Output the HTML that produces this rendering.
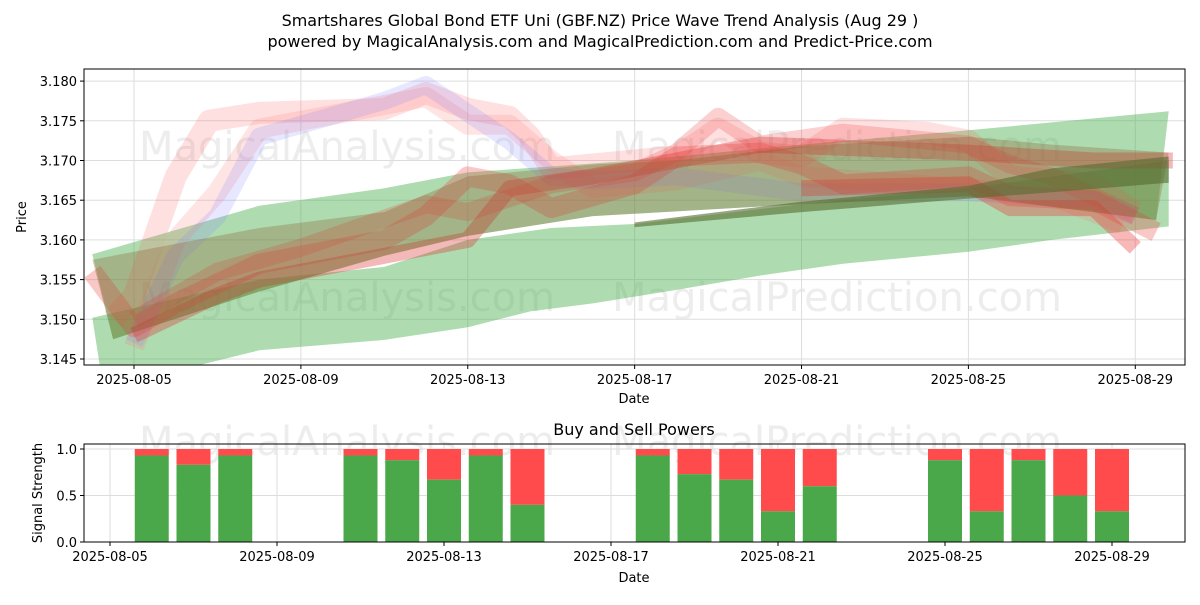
<!DOCTYPE html>
<html><head><meta charset="utf-8"><style>
body{margin:0;background:#fff;font-family:"Liberation Sans","DejaVu Sans",sans-serif}
svg text{font-family:"DejaVu Sans","Liberation Sans",sans-serif;fill:#000}
</style></head><body>
<svg id="c" width="1200" height="600" xmlns="http://www.w3.org/2000/svg">
<text x="600" y="26" text-anchor="middle" font-size="16">Smartshares Global Bond ETF Uni (GBF.NZ) Price Wave Trend Analysis (Aug 29 )</text>
<text x="600" y="47" text-anchor="middle" font-size="16">powered by MagicalAnalysis.com and MagicalPrediction.com and Predict-Price.com</text>
<g id="topg"></g><g id="botg"></g>
</svg>
<script>
// ---- data (x = day of August 2025) ----
const xTickLabels=["2025-08-05","2025-08-09","2025-08-13","2025-08-17","2025-08-21","2025-08-25","2025-08-29"];
const xTickDays=[5,9,13,17,21,25,29];
const yTicks=[3.145,3.150,3.155,3.160,3.165,3.170,3.175,3.180];
const greenAUpper=[[4,3.1582],[8,3.1643],[11,3.1665],[13,3.1685],[17,3.170],[21,3.172],[25,3.1738],[29.8,3.1762]];
const greenBUpper=[[4,3.1502],[8,3.155],[11,3.1566],[13,3.160],[15,3.1615],[17,3.162],[21,3.1645],[25,3.1665],[29.8,3.170]];
const greenBLower=[[4.2,3.1435],[6,3.1435],[8,3.1461],[11,3.1474],[13,3.149],[14.5,3.151],[16,3.152],[18,3.1537],[20,3.1555],[22,3.157],[25,3.1585],[27,3.160],[29.8,3.1617]];
const brownUpper=[[4,3.1575],[8,3.1615],[11,3.1635],[13,3.168],[16,3.1695],[18,3.170],[21,3.1718],[25,3.173],[27,3.172],[29.8,3.171]];
const brownLower=[[4.5,3.1475],[8,3.1535],[11,3.158],[13,3.1605],[16,3.163],[21,3.1645],[25,3.1655],[29.5,3.1625]];
const oliveUpper=[[17,3.1622],[21,3.1648],[25,3.1668],[27,3.169],[29.8,3.1705]];
const oliveLower=[[17,3.1616],[21,3.1635],[25,3.1652],[27,3.166],[29.8,3.1672]];
const lineBlue=[[5,3.147],[6,3.158],[7,3.163],[8,3.173],[11,3.1775],[12,3.1795],[13,3.176],[14,3.1725],[15,3.168],[16,3.1675],[18,3.168],[21,3.166],[25,3.166],[28,3.165],[29,3.163]];
const lineP1=[[4.5,3.150],[5,3.153],[6,3.168],[6.8,3.175],[8,3.176],[11,3.1765],[12,3.1785],[13,3.1765],[14,3.1755],[14.5,3.173],[15,3.169],[16,3.1695],[18,3.1705],[19,3.174],[20,3.171],[21,3.1705],[22,3.174],[24,3.1735],[25,3.1725],[26,3.168],[28,3.167],[29,3.1635]];
const lineP2=[[4,3.156],[5,3.149],[6,3.152],[8,3.157],[11,3.160],[12,3.163],[13,3.168],[14,3.167],[15,3.164],[17,3.167],[18,3.1705],[20,3.171],[21,3.1695],[22,3.167],[25,3.168],[26,3.1655],[28,3.165],[29.5,3.161]];
const lineP3=[[5,3.148],[7,3.153],[8,3.155],[11,3.158],[13,3.160],[14,3.1665],[16,3.168],[18,3.170],[20,3.172],[25,3.171],[28,3.170],[29.9,3.170]];
const lineP4=[[5,3.150],[7,3.156],[9,3.159],[12,3.1645],[13,3.1635],[15,3.167],[17,3.1685],[18,3.171],[19,3.1755],[20,3.172],[22,3.1735],[25,3.172],[26,3.1695],[27,3.168],[29,3.163]];
const lineP5=[[5,3.1465],[6,3.160],[7,3.166],[8,3.174],[10,3.176],[12,3.178],[13,3.1745],[14,3.1745],[15,3.170],[16,3.1665],[18,3.1675],[20,3.170],[21,3.168],[25,3.1665],[27,3.1655],[28.7,3.162]];
const lineP6=[[21,3.1665],[25,3.167],[26,3.164],[28,3.164],[29,3.159]];
const barDays=[6,7,8,11,12,13,14,15,18,19,20,21,22,25,26,27,28,29];
const buyVals=[0.93,0.83,0.93,0.93,0.88,0.67,0.93,0.4,0.93,0.73,0.67,0.33,0.6,0.88,0.33,0.88,0.5,0.33];
const bTicks=[0,0.5,1.0];
// ---- axes ----
const X=d=>134+(d-5)*41.72;
const XB=d=>110+(d-5)*41.75;
const Y=p=>359-(p-3.145)/0.005*39.7;
const YB=v=>542-v*93;
const NS="http://www.w3.org/2000/svg";
function mk(par,tag,at,txt){const e=document.createElementNS(NS,tag);for(const k in at)e.setAttribute(k,at[k]);if(txt!=null)e.textContent=txt;par.appendChild(e);return e;}
const topG=document.getElementById('topg'),botG=document.getElementById('botg');
const defs=mk(topG,'defs',{});const cp=mk(defs,'clipPath',{id:'cl'});mk(cp,'rect',{x:84,y:69,width:1101,height:296});
[["MagicalAnalysis.com",347,160],["MagicalPrediction.com",837,160],["MagicalAnalysis.com",347,311],["MagicalPrediction.com",837,311],["MagicalAnalysis.com",347,455],["MagicalPrediction.com",837,455]].forEach(w=>{
 const t=mk(topG,'text',{x:w[1],y:w[2],'text-anchor':'middle','font-size':40,style:'fill:#ccc;opacity:0.35'},w[0]);
 
 
});
xTickDays.forEach((d,i)=>{
 mk(topG,'line',{x1:X(d),x2:X(d),y1:69,y2:365,stroke:'#ddd','stroke-width':1});
 mk(topG,'line',{x1:X(d),x2:X(d),y1:365,y2:369,stroke:'#000'});
 const t=mk(topG,'text',{x:X(d),y:384,'text-anchor':'middle','font-size':13},xTickLabels[i]);
 
 
});
yTicks.forEach(v=>{
 mk(topG,'line',{x1:84,x2:1185,y1:Y(v),y2:Y(v),stroke:'#ddd'});
 mk(topG,'line',{x1:80,x2:84,y1:Y(v),y2:Y(v),stroke:'#000'});
 const t=mk(topG,'text',{x:77,y:Y(v)+5,'text-anchor':'end','font-size':13},v.toFixed(3));
 
 
});
const g=mk(topG,'g',{'clip-path':'url(#cl)'});
function band(u,l,col,op,name){
 const pts=u.concat(l.slice().reverse()).map(p=>X(p[0]).toFixed(1)+','+Y(p[1]).toFixed(1)).join(' ');
 const e=mk(g,'polygon',{points:pts,fill:col,'fill-opacity':op});
 
 
}
function line(arr,col,op,w,name){
 const pts=arr.map(p=>X(p[0]).toFixed(1)+','+Y(p[1]).toFixed(1)).join(' ');
 const e=mk(g,'polyline',{points:pts,fill:'none',stroke:col,'stroke-opacity':op,'stroke-width':w,'stroke-linejoin':'round'});
 
 
}
band(greenBUpper,greenBLower,'#4caf50',0.45,'green-band-lower');
band(greenAUpper,brownLower,'#4caf50',0.45,'green-band-upper');
line(lineP1,'#ff6666',0.2,22,'wave-pink-high');
line(lineP5,'#ff7777',0.2,20,'wave-pink-2');
line(lineBlue,'#8888ff',0.2,18,'wave-blue');
line(lineP2,'#ee4444',0.3,20,'wave-red-mid');
line(lineP4,'#ee4444',0.25,18,'wave-red-4');
line(lineP3,'#dd3333',0.35,16,'wave-red-low');
line(lineP6,'#ee3333',0.35,16,'wave-red-tail');
band(brownUpper,brownLower,'#8b5a2b',0.3,'brown-band');
band(oliveUpper,oliveLower,'#556b2f',0.6,'olive-band');
mk(topG,'rect',{x:84,y:69,width:1101,height:296,fill:'none',stroke:'#000'});
let t=mk(topG,'text',{x:634,y:403,'text-anchor':'middle','font-size':13},'Date');


t=mk(topG,'text',{x:26,y:217,'text-anchor':'middle','font-size':13,transform:'rotate(-90 26 217)'},'Price');


t=mk(botG,'text',{x:634,y:435,'text-anchor':'middle','font-size':16},'Buy and Sell Powers');


xTickDays.forEach((d,i)=>{
 mk(botG,'line',{x1:XB(d),x2:XB(d),y1:444,y2:542,stroke:'#ddd'});
 mk(botG,'line',{x1:XB(d),x2:XB(d),y1:542,y2:546,stroke:'#000'});
 const e=mk(botG,'text',{x:XB(d),y:561,'text-anchor':'middle','font-size':13},xTickLabels[i]);
 
 
});
bTicks.forEach(v=>{
 mk(botG,'line',{x1:84,x2:1185,y1:YB(v),y2:YB(v),stroke:'#ddd'});
 mk(botG,'line',{x1:80,x2:84,y1:YB(v),y2:YB(v),stroke:'#000'});
 const e=mk(botG,'text',{x:77,y:YB(v)+5,'text-anchor':'end','font-size':13},v.toFixed(1));
 
 
});
barDays.forEach((d,i)=>{
 const b=buyVals[i],w=34;
 const s=mk(botG,'rect',{x:XB(d)-w/2,y:YB(1),width:w,height:YB(b)-YB(1),fill:'#ff4b4b'});
 
 
 const r=mk(botG,'rect',{x:XB(d)-w/2,y:YB(b),width:w,height:YB(0)-YB(b),fill:'#4aa84a'});
 
 
});
mk(botG,'rect',{x:84,y:444,width:1101,height:98,fill:'none',stroke:'#000'});
t=mk(botG,'text',{x:634,y:582,'text-anchor':'middle','font-size':13},'Date');


t=mk(botG,'text',{x:42,y:493,'text-anchor':'middle','font-size':13,transform:'rotate(-90 42 493)'},'Signal Strength');


</script>
</body></html>
